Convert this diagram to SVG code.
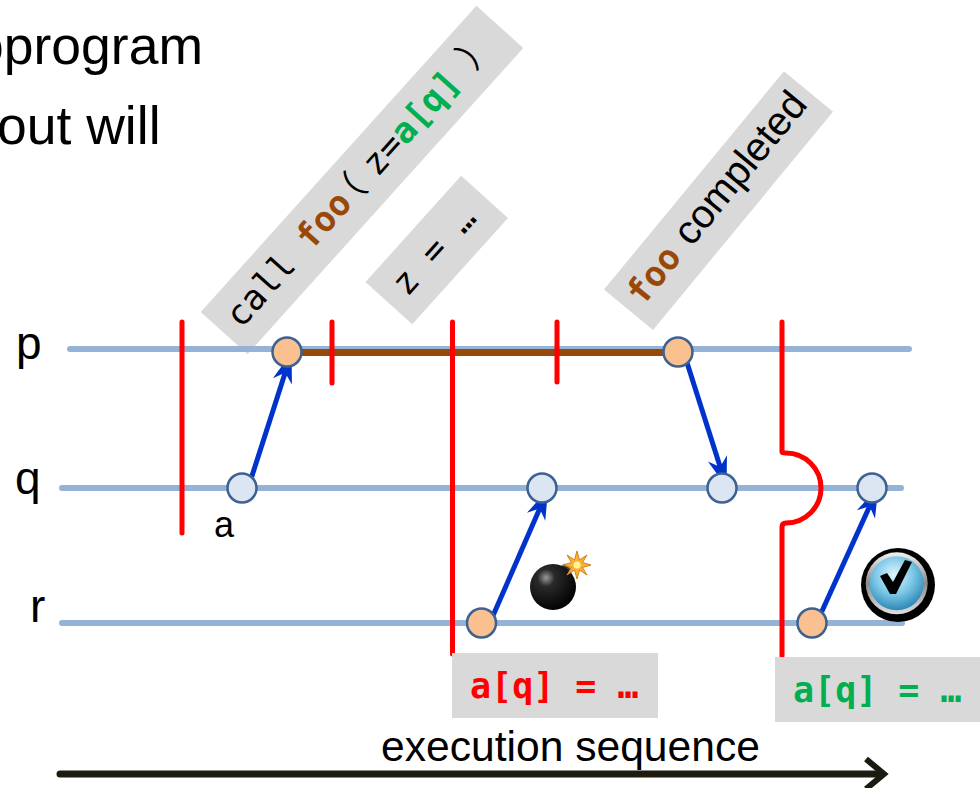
<svg xmlns="http://www.w3.org/2000/svg" width="980" height="788" viewBox="0 0 980 788">
  <style>
    .sans { font-family: "Liberation Sans", Arial, sans-serif; fill: #000; }
    .mono { font-family: "DejaVu Sans Mono", "Liberation Mono", monospace; font-size: 35px; fill: #000; }
    .cjk { font-family: "Noto Sans CJK SC", "Noto Sans CJK JP", sans-serif; font-size: 35px; }
    .brown { fill: #984807; font-weight: bold; }
    .green { fill: #00B050; font-weight: bold; }
    .red { fill: #FF0000; font-weight: bold; }
    .label { fill: #D9D9D9; }
    .timeline { stroke: #95B3D7; stroke-width: 6; stroke-linecap: round; fill: none; }
    .cut { stroke: #FF0000; stroke-width: 5; stroke-linecap: round; fill: none; }
    .msg { stroke: #0033CC; stroke-width: 5; fill: none; marker-end: url(#head); }
    .ev-send { fill: #FAC090; stroke: #3D6191; stroke-width: 2.5; }
    .ev-recv { fill: #DCE6F2; stroke: #3D6191; stroke-width: 2.5; }
  </style>
  <defs>
    <marker id="head" markerUnits="userSpaceOnUse" markerWidth="36" markerHeight="26" refX="19" refY="13" orient="auto">
      <path d="M35,13 L5,3 L14,13 L5,23 Z" fill="#0033CC"/>
    </marker>
    <radialGradient id="bombShade" cx="0.35" cy="0.3" r="0.75">
      <stop offset="0" stop-color="#9a9a9a"/>
      <stop offset="0.25" stop-color="#2a2a2a"/>
      <stop offset="1" stop-color="#000"/>
    </radialGradient>
    <radialGradient id="btnBlue" cx="0.45" cy="0.35" r="0.7">
      <stop offset="0" stop-color="#E4F6FD"/>
      <stop offset="0.5" stop-color="#7CC8E8"/>
      <stop offset="1" stop-color="#1F7FAE"/>
    </radialGradient>
    <linearGradient id="btnRing" x1="0" y1="0" x2="0" y2="1">
      <stop offset="0" stop-color="#f2f2f2"/>
      <stop offset="0.5" stop-color="#8a8a8a"/>
      <stop offset="1" stop-color="#e0e0e0"/>
    </linearGradient>
  </defs>

  <rect width="980" height="788" fill="#fff"/>

  <!-- slide text cut at the left edge -->
  <text class="sans" x="-26" y="64" font-size="53.5">oprogram</text>
  <text class="sans" x="-3" y="144" font-size="53.5">out will</text>

  <!-- rotated code labels -->
  <g id="label-call" transform="translate(362,180) rotate(-48)">
    <rect class="label" x="-206" y="-31.5" width="412" height="63"/>
    <text class="mono" y="10"><tspan x="-192">call</tspan><tspan x="-87" class="brown">foo</tspan><tspan x="-37" class="cjk">（</tspan><tspan x="12">z=</tspan><tspan class="green">a[q]</tspan><tspan x="156" class="cjk">）</tspan></text>
  </g>
  <g id="label-assign" transform="translate(436.7,250) rotate(-48)">
    <rect class="label" x="-71.5" y="-31.5" width="143" height="63"/>
    <text class="mono" x="-55" y="10">z = …</text>
  </g>
  <g id="label-completed" transform="translate(718.5,200.6) rotate(-50.5)">
    <rect class="label" x="-141.5" y="-31.8" width="283" height="63.6"/>
    <text y="9"><tspan class="mono brown" x="-130">foo</tspan><tspan class="sans" x="-53.5" font-size="40">completed</tspan></text>
  </g>

  <!-- process timelines -->
  <g id="process-p">
    <text class="sans" x="16" y="359" font-size="46">p</text>
    <line class="timeline" x1="70" y1="349" x2="909" y2="349"/>
  </g>
  <g id="process-q">
    <text class="sans" x="15" y="494" font-size="46">q</text>
    <line class="timeline" x1="62" y1="488" x2="901" y2="488"/>
  </g>
  <g id="process-r">
    <text class="sans" x="30" y="622" font-size="46">r</text>
    <line class="timeline" x1="62" y1="623" x2="902" y2="623"/>
  </g>

  <!-- call span of foo on p -->
  <line id="foo-span" x1="290" y1="352.5" x2="675" y2="352.5" stroke="#984807" stroke-width="7"/>

  <!-- consistent cuts -->
  <g id="cuts">
    <line class="cut" x1="182" y1="322" x2="182" y2="533"/>
    <line class="cut" x1="332" y1="322" x2="332" y2="383"/>
    <line class="cut" x1="452.5" y1="322" x2="452.5" y2="654"/>
    <line class="cut" x1="557" y1="322" x2="557" y2="382"/>
    <path class="cut" d="M782,322 V452 Q782,453 786,453 A35,35 0 0 1 786,523 Q782,523 782,527 V656"/>
  </g>

  <!-- messages -->
  <g id="connectors">
    <line class="msg" x1="251.7" y1="476.7" x2="286.7" y2="368"/>
    <line class="msg" x1="686.7" y1="361.7" x2="721.7" y2="471.7"/>
    <line class="msg" x1="493.3" y1="615" x2="541.7" y2="504"/>
    <line class="msg" x1="821.7" y1="611.7" x2="871.7" y2="501.7"/>
  </g>

  <!-- events -->
  <g id="ev-a"><circle class="ev-recv" cx="242" cy="488" r="14.5"/><text class="sans" x="214" y="537" font-size="36">a</text></g>
  <g id="ev-p1"><circle class="ev-send" cx="287" cy="352" r="14.5"/></g>
  <g id="ev-p2"><circle class="ev-send" cx="678" cy="352" r="14.5"/></g>
  <g id="ev-q1"><circle class="ev-recv" cx="542" cy="488" r="14.5"/></g>
  <g id="ev-q2"><circle class="ev-recv" cx="722" cy="488" r="14.5"/></g>
  <g id="ev-q3"><circle class="ev-recv" cx="872" cy="488" r="14.5"/></g>
  <g id="ev-r1"><circle class="ev-send" cx="481.5" cy="623" r="14.5"/></g>
  <g id="ev-r2"><circle class="ev-send" cx="812" cy="623" r="14.5"/></g>

  <!-- bomb -->
  <g id="bomb">
    <rect x="560" y="566" width="11" height="9" rx="2" fill="#3a3a3a" stroke="#777" stroke-width="1" transform="rotate(40 565.5 570.5)"/>
    <circle cx="553" cy="587" r="23" fill="url(#bombShade)"/>
    <path d="M570,566 q3,-3 6,-1" stroke="#444" stroke-width="1.5" fill="none"/>
    <polygon points="577,551 579.5,560 587,555 582.5,562.5 591,565 582.5,567.5 587,575 579.5,570 577,579 574.5,570 567,575 571.5,567.5 563,565 571.5,562.5 567,555 574.5,560" fill="#F9B233" stroke="#D7801A" stroke-width="1"/>
    <circle cx="577" cy="565" r="3.5" fill="#FFF3A0"/>
  </g>

  <!-- check button -->
  <g id="check">
    <circle cx="898" cy="585" r="37" fill="#000"/>
    <circle cx="896.7" cy="583.3" r="31" fill="url(#btnRing)"/>
    <circle cx="896.7" cy="583.3" r="27" fill="url(#btnBlue)"/>
    <path d="M880,576 L887,573 L893,582 L905,560 L912,562 L896,594 L890,594 Z" fill="#000"/>
  </g>

  <!-- write labels -->
  <g id="write-red">
    <rect class="label" x="452" y="653" width="206" height="65"/>
    <text class="mono red" x="470" y="698">a[q] = …</text>
  </g>
  <g id="write-green">
    <rect class="label" x="775" y="657" width="210" height="65"/>
    <text class="mono green" x="793" y="701.5">a[q] = …</text>
  </g>

  <!-- time axis -->
  <g id="axis">
    <text class="sans" x="381" y="761" font-size="42.6">execution sequence</text>
    <line x1="60" y1="774" x2="882" y2="774" stroke="#1D1B10" stroke-width="7" stroke-linecap="round"/>
    <polyline points="866,759 884,774 866,789" fill="none" stroke="#1D1B10" stroke-width="6" stroke-linejoin="miter"/>
  </g>
</svg>
